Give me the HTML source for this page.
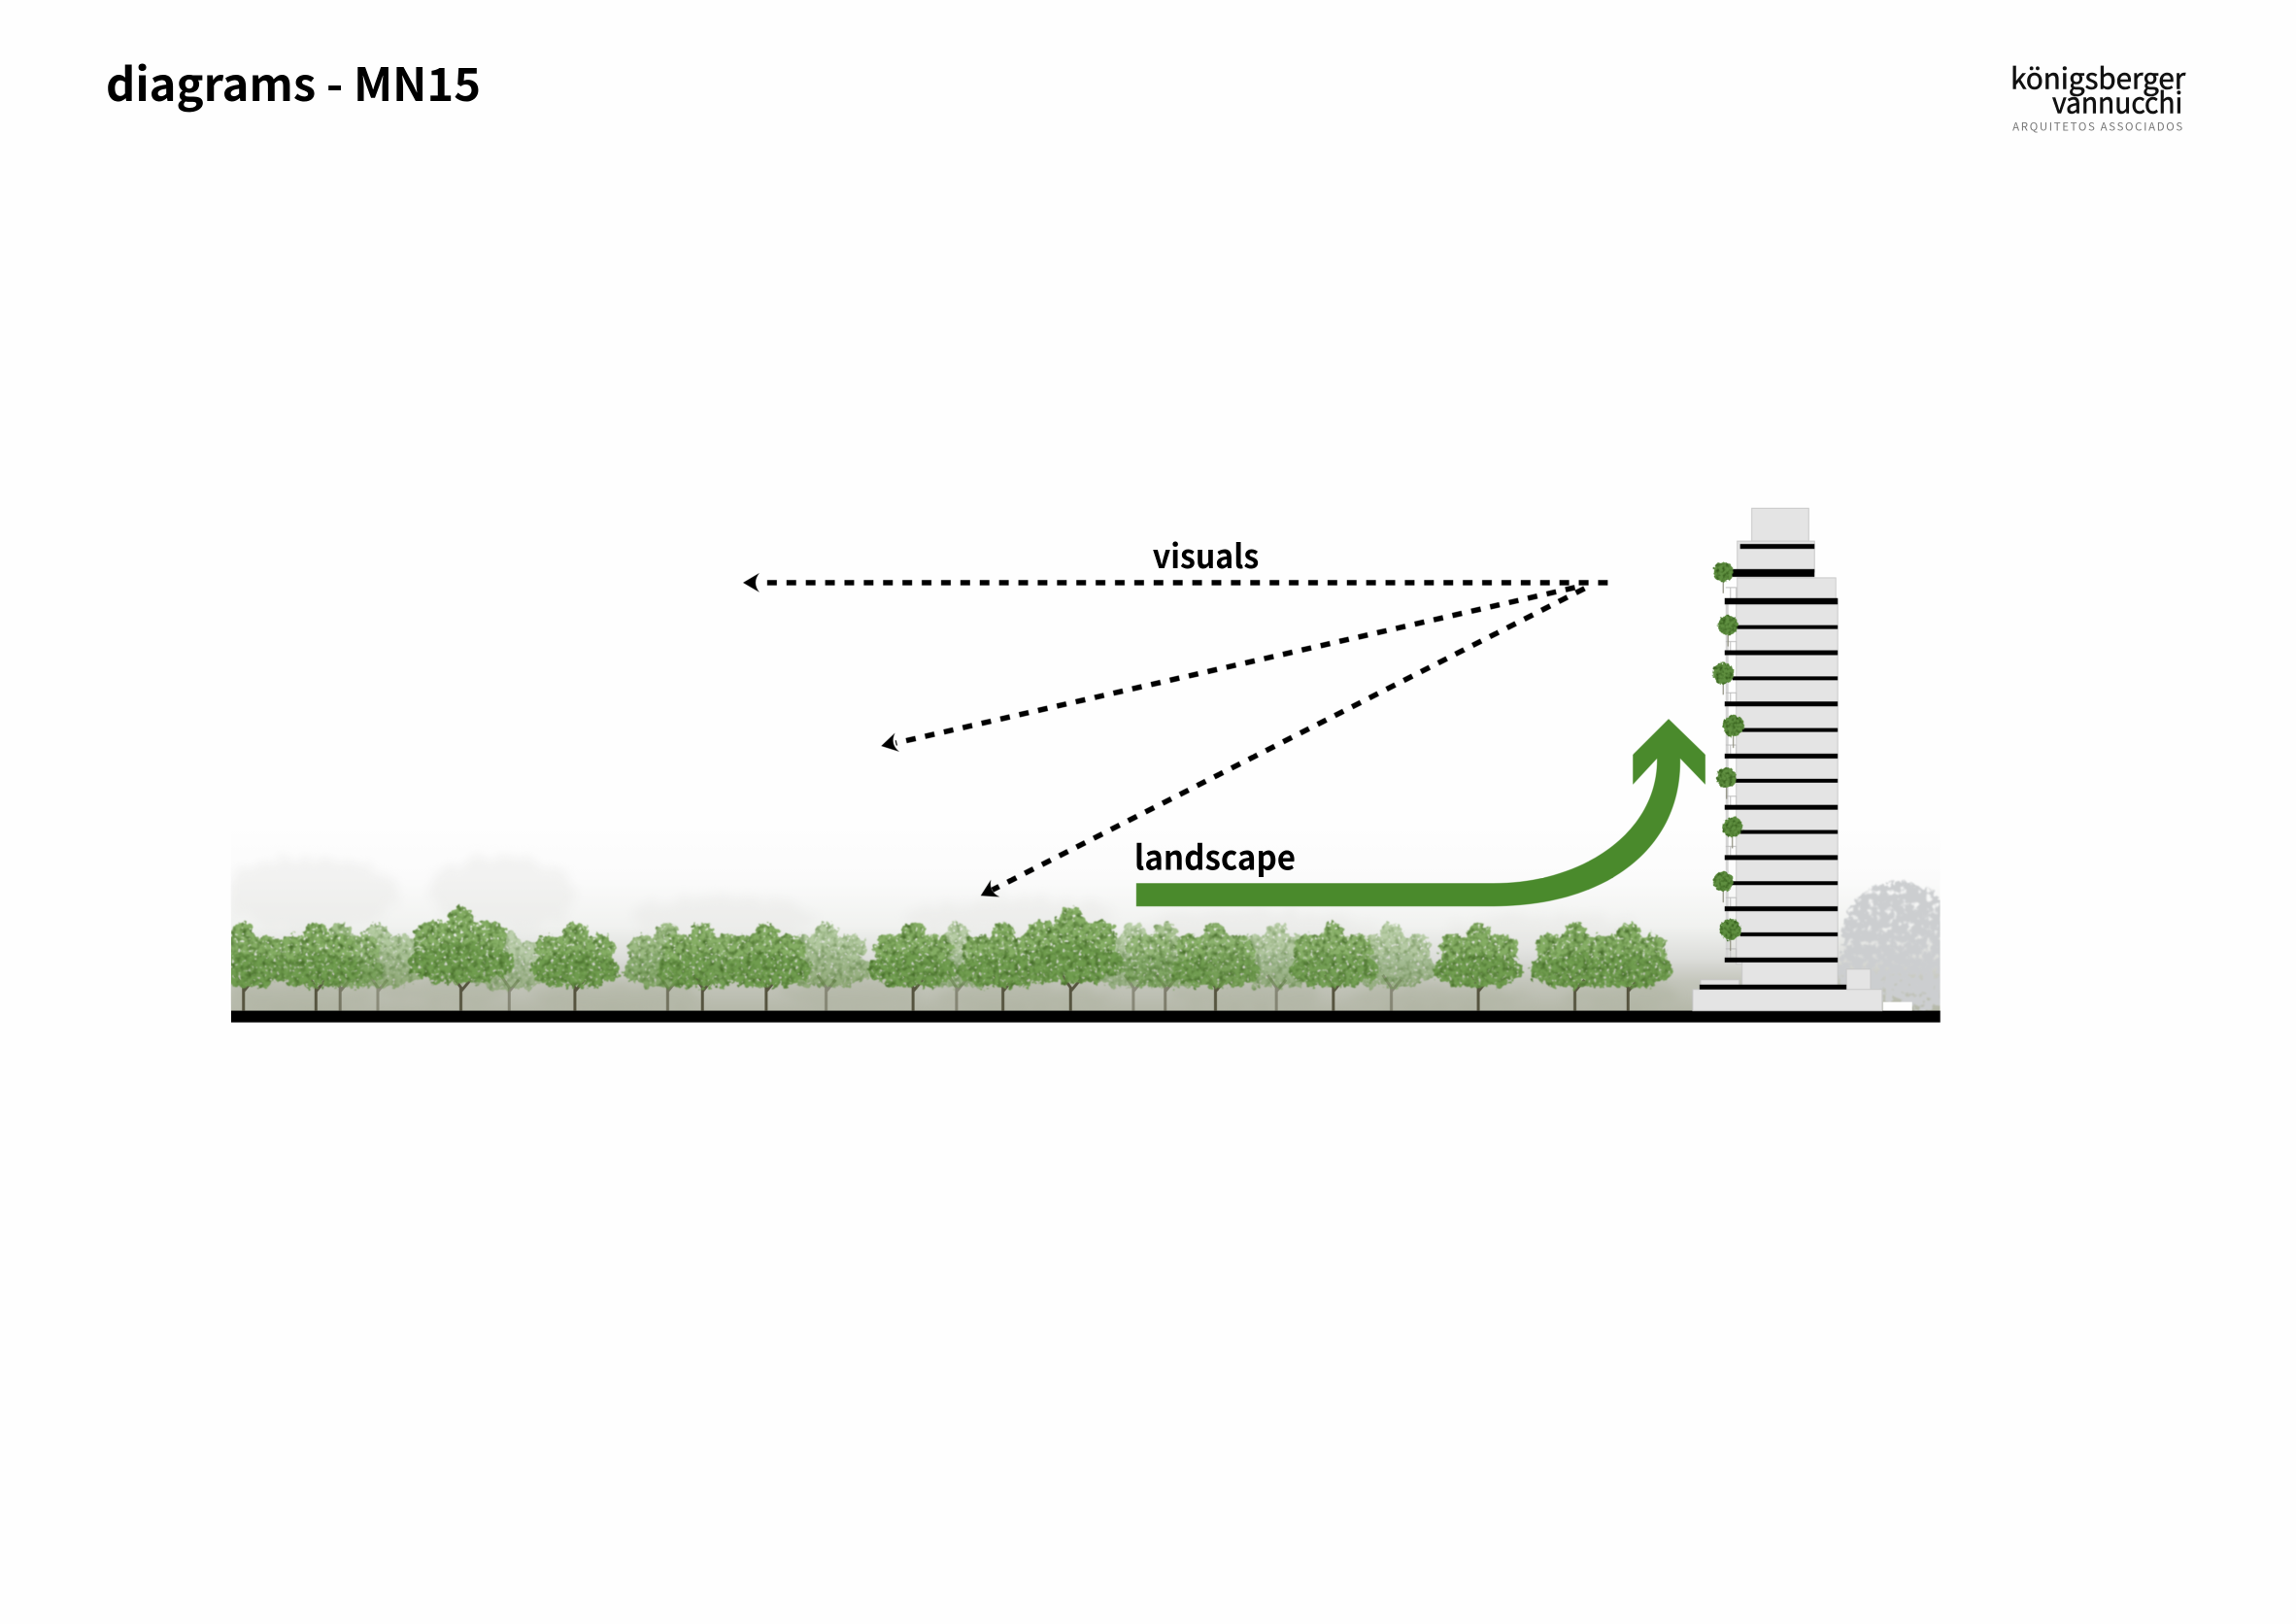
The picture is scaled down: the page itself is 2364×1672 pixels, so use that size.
<!DOCTYPE html>
<html><head><meta charset="utf-8"><title>diagrams - MN15</title>
<style>html,body{margin:0;padding:0;background:#fefefe}svg{display:block}</style></head>
<body>
<svg xmlns="http://www.w3.org/2000/svg" width="2364" height="1672" viewBox="0 0 2364 1672">
<defs>
<linearGradient id="fog" x1="0" y1="0" x2="0" y2="1">
<stop offset="0" stop-color="#fefefe"/><stop offset=".3" stop-color="#fbfbfb"/><stop offset=".55" stop-color="#f1f2f0"/><stop offset=".72" stop-color="#dcddda"/><stop offset=".84" stop-color="#c4c6bc"/><stop offset="1" stop-color="#b5b8a9"/>
</linearGradient>
<filter id="leaf" filterUnits="userSpaceOnUse" x="200" y="850" width="1850" height="220" color-interpolation-filters="sRGB">
<feTurbulence type="fractalNoise" baseFrequency=".18" numOctaves="2" seed="4" result="n"/>
<feDisplacementMap in="SourceGraphic" in2="n" scale="11" xChannelSelector="R" yChannelSelector="G" result="d"/>
<feTurbulence type="fractalNoise" baseFrequency=".3" numOctaves="2" seed="11" result="m"/>
<feColorMatrix in="m" type="matrix" values="0 0 0 0 0  0 0 0 0 0  0 0 0 0 0  0 7 0 0 -4.3" result="holes"/>
<feComposite in="d" in2="holes" operator="out" result="h"/>
<feColorMatrix in="n" type="matrix" values="0 0 0 0 .27  0 0 0 0 .42  0 0 0 0 .16  2.4 0 0 0 -1.05" result="t"/>
<feComposite in="t" in2="h" operator="in" result="s"/>
<feMerge result="o"><feMergeNode in="h"/><feMergeNode in="s"/></feMerge>
<feGaussianBlur in="o" stdDeviation=".5"/>
</filter>
<filter id="small" filterUnits="userSpaceOnUse" x="1760" y="560" width="70" height="440" color-interpolation-filters="sRGB">
<feTurbulence type="fractalNoise" baseFrequency=".3" numOctaves="2" seed="9" result="n"/>
<feDisplacementMap in="SourceGraphic" in2="n" scale="5" xChannelSelector="R" yChannelSelector="G" result="d"/>
<feColorMatrix in="n" type="matrix" values="0 0 0 0 .20  0 0 0 0 .36  0 0 0 0 .10  2.4 0 0 0 -1" result="t"/>
<feComposite in="t" in2="d" operator="in" result="s"/>
<feMerge><feMergeNode in="d"/><feMergeNode in="s"/></feMerge>
</filter>
<filter id="mottle" filterUnits="userSpaceOnUse" x="239" y="850" width="1770" height="200" color-interpolation-filters="sRGB">
<feTurbulence type="fractalNoise" baseFrequency=".07" numOctaves="3" seed="2" result="n"/>
<feDisplacementMap in="SourceGraphic" in2="n" scale="26" xChannelSelector="R" yChannelSelector="G"/>
<feGaussianBlur stdDeviation="5"/>
</filter>
<filter id="greytree" filterUnits="userSpaceOnUse" x="1880" y="880" width="160" height="180" color-interpolation-filters="sRGB">
<feTurbulence type="fractalNoise" baseFrequency=".15" numOctaves="2" seed="6" result="n"/>
<feDisplacementMap in="SourceGraphic" in2="n" scale="16" xChannelSelector="R" yChannelSelector="G" result="d"/>
<feColorMatrix in="n" type="matrix" values="0 0 0 0 0  0 0 0 0 0  0 0 0 0 0  0 6 0 0 -3.4" result="holes"/>
<feComposite in="d" in2="holes" operator="out"/>
<feGaussianBlur stdDeviation=".8"/>
</filter>
<clipPath id="band"><rect x="239" y="850" width="1769" height="197"/></clipPath>
<g id="trunk"><path d="M0 0V-24L-9 -37M0 -20L10 -32" fill="none" stroke="#56543f" stroke-width="3"/></g>
<g id="tree"><g transform="scale(1.08 1)">
<g fill="#84ad63">
<circle cx="0" cy="-80" r="11"/><circle cx="-23" cy="-64" r="15"/><circle cx="23" cy="-64" r="15"/>
<circle cx="0" cy="-60" r="22"/>
</g>
<g fill="#6f9c4e">
<circle cx="-31" cy="-42" r="12"/><circle cx="31" cy="-42" r="12"/>
<ellipse cx="0" cy="-42" rx="32" ry="18"/><circle cx="-19" cy="-33" r="9"/><circle cx="19" cy="-33" r="9"/>
</g>
</g></g>
<path id="head" d="M0 0L17 -10Q9 0 17 10Z" fill="#000"/>
</defs>

<text x="109" y="104" font-family="'Noto Sans CJK JP','Liberation Sans',sans-serif" font-weight="700" font-size="47" fill="#000" textLength="386" lengthAdjust="spacingAndGlyphs">diagrams - MN15</text>

<g transform="scale(.9948)">
<!-- fog and distant forest -->
<g clip-path="url(#band)">
<rect x="239" y="850" width="1769" height="197" fill="url(#fog)"/>
<g filter="url(#mottle)">
<g fill="#e6e7e5" opacity=".45">
<ellipse cx="320" cy="925" rx="90" ry="38"/><ellipse cx="520" cy="925" rx="75" ry="38"/>
<ellipse cx="750" cy="950" rx="95" ry="22"/><ellipse cx="1050" cy="950" rx="110" ry="20"/>
<ellipse cx="1300" cy="960" rx="120" ry="18"/><ellipse cx="1600" cy="965" rx="100" ry="18"/>
</g>
<g fill="#aab09b" opacity=".4">
<ellipse cx="310" cy="1030" rx="80" ry="17"/><ellipse cx="460" cy="1025" rx="70" ry="15"/><ellipse cx="640" cy="1032" rx="90" ry="16"/>
<ellipse cx="880" cy="1028" rx="70" ry="15"/><ellipse cx="1060" cy="1032" rx="90" ry="15"/><ellipse cx="1290" cy="1030" rx="80" ry="15"/>
<ellipse cx="1490" cy="1032" rx="90" ry="13"/><ellipse cx="1680" cy="1030" rx="60" ry="14"/>
</g>
</g>
<g filter="url(#greytree)" fill="#ccced0">
<ellipse cx="1965" cy="968" rx="58" ry="56"/><ellipse cx="1935" cy="1005" rx="34" ry="36"/><ellipse cx="1990" cy="1012" rx="34" ry="34"/>
</g>
<!-- trunks -->
<g>
<use href="#trunk" x="391" y="1046" opacity=".45"/><use href="#trunk" x="352" y="1046" opacity=".65"/><use href="#trunk" x="527" y="1046" opacity=".5"/><use href="#trunk" x="691" y="1046" opacity=".7"/><use href="#trunk" x="855" y="1046" opacity=".5"/><use href="#trunk" x="990" y="1046" opacity=".5"/><use href="#trunk" x="1173" y="1046" opacity=".5"/><use href="#trunk" x="1206" y="1046" opacity=".6"/><use href="#trunk" x="1321" y="1046" opacity=".5"/><use href="#trunk" x="1440" y="1046" opacity=".5"/>
<use href="#trunk" x="252" y="1046"/><use href="#trunk" x="327" y="1046"/><use href="#trunk" x="477" y="1046"/><use href="#trunk" x="595" y="1046"/><use href="#trunk" x="727" y="1046"/><use href="#trunk" x="793" y="1046"/><use href="#trunk" x="945" y="1046"/><use href="#trunk" x="1038" y="1046"/><use href="#trunk" x="1108" y="1046"/><use href="#trunk" x="1258" y="1046"/><use href="#trunk" x="1380" y="1046"/><use href="#trunk" x="1530" y="1046"/><use href="#trunk" x="1630" y="1046"/><use href="#trunk" x="1685" y="1046"/>
</g>
<!-- trees -->
<g filter="url(#leaf)">
<use href="#tree" transform="translate(1173 1046)" opacity=".5"/>
<use href="#tree" transform="translate(1321 1046)" opacity=".5"/>
<use href="#tree" transform="translate(1440 1046)" opacity=".5"/>
<use href="#tree" transform="translate(990 1046)" opacity=".5"/>
<use href="#tree" transform="translate(855 1046)" opacity=".55"/>
<use href="#tree" transform="translate(527 1046) scale(.9)" opacity=".45"/>
<use href="#tree" transform="translate(391 1046)" opacity=".55"/>
<use href="#tree" transform="translate(352 1046)" opacity=".72"/>
<use href="#tree" transform="translate(691 1046)" opacity=".75"/>
<use href="#tree" transform="translate(1206 1046)" opacity=".65"/>
<use href="#tree" transform="translate(252 1046)"/>
<use href="#tree" transform="translate(327 1046)"/>
<use href="#tree" transform="translate(477 1046) scale(1.18)"/>
<use href="#tree" transform="translate(595 1046)"/>
<use href="#tree" transform="translate(727 1046)" opacity=".95"/>
<use href="#tree" transform="translate(793 1046)"/>
<use href="#tree" transform="translate(945 1046)"/>
<use href="#tree" transform="translate(1038 1046)"/>
<use href="#tree" transform="translate(1108 1046) scale(1.18)"/>
<use href="#tree" transform="translate(1258 1046)" opacity=".92"/>
<use href="#tree" transform="translate(1380 1046)" opacity=".95"/>
<use href="#tree" transform="translate(1530 1046)"/>
<use href="#tree" transform="translate(1630 1046)"/>
<use href="#tree" transform="translate(1685 1046)"/>
</g>
</g>
<rect x="239" y="1046" width="1769" height="12" fill="#000"/>

<!-- building -->
<g fill="#e4e4e4" stroke="#c8c8c8" stroke-width="1">
<rect x="1813" y="526" width="59" height="35"/>
<rect x="1798" y="560" width="80" height="32"/>
<rect x="1798" y="598" width="102" height="26"/>
<rect x="1797" y="620" width="105" height="378"/>
<rect x="1803" y="995" width="99" height="30"/>
<rect x="1911" y="1003" width="25" height="22"/>
<rect x="1760" y="1014" width="40" height="10"/>
<rect x="1752" y="1024" width="196" height="22"/>
</g>
<rect x="1949" y="1037" width="30" height="9" fill="#fefefe"/>
<rect x="1786" y="620" width="3" height="375" fill="#d4d4d4"/>
<g fill="none" stroke="#bdbdbd" stroke-width="1">
<path d="M1786 608h11v12M1786 664h11v12M1786 717h11v12M1786 771h11v12M1786 824h11v12M1786 876h11v12M1786 929h11v12M1786 982h11v12"/>
<path d="M1791 608v12M1791 664v12M1791 717v12M1791 771v12M1791 824v12M1791 876v12M1791 929v12M1791 982v12"/>
</g>
<g fill="#000">
<rect x="1801" y="563" width="77" height="5"/>
<rect x="1790" y="589" width="88" height="8"/>
<rect x="1785" y="619" width="117" height="6.5"/>
<rect x="1797" y="647" width="105" height="4"/>
<rect x="1785" y="673" width="117" height="5"/>
<rect x="1793" y="700" width="109" height="4"/>
<rect x="1785" y="726" width="117" height="5"/>
<rect x="1803" y="753.500" width="99" height="4"/>
<rect x="1785" y="780" width="117" height="5"/>
<rect x="1796" y="806" width="106" height="4"/>
<rect x="1785" y="833" width="117" height="5"/>
<rect x="1801" y="859" width="101" height="4"/>
<rect x="1785" y="885" width="117" height="5"/>
<rect x="1790" y="912" width="112" height="4"/>
<rect x="1785" y="938" width="117" height="5"/>
<rect x="1801" y="965" width="101" height="4"/>
<rect x="1785" y="991" width="117" height="5"/>
<rect x="1759" y="1019" width="152" height="5"/>
</g>
<g stroke="#8d8d7d" stroke-width="1.2">
<path d="M1783.500 600v14M1788.500 655v14M1783.500 705v14M1794 760v14M1787 813v14M1793 864v14M1783.500 920v14M1791 970v14"/>
</g>
<g filter="url(#small)" fill="#5f8f40">
<circle cx="1783.500" cy="592" r="10.500"/><circle cx="1788.500" cy="647" r="10.500"/><circle cx="1783.500" cy="697" r="11"/><circle cx="1794" cy="751" r="11"/>
<circle cx="1787" cy="805" r="10.500"/><circle cx="1793" cy="856" r="10.500"/><circle cx="1783.500" cy="912" r="10.500"/><circle cx="1791" cy="962" r="11"/>
</g>

<!-- green arrow -->
<path d="M1727 744L1765 781V812L1739 785C1741 880 1660 938 1546 938H1176V914H1546C1640 914 1716 860 1715 785L1690 812V781Z" fill="#4a8a2c"/>

<!-- dashed view lines -->
<g fill="none" stroke="#000" stroke-width="5.500" stroke-dasharray="10 10">
<path d="M1664 603H785"/>
<path d="M1630 608L927 769"/>
<path d="M1640 609L1027 921"/>
</g>
<use href="#head" transform="translate(769 603)"/>
<use href="#head" transform="translate(912 772) rotate(-13)"/>
<use href="#head" transform="translate(1015 927) rotate(-27)"/>

<!-- text -->
<g font-family="'Noto Sans CJK JP','Liberation Sans',sans-serif" font-weight="700" fill="#000">
<text x="1193" y="588" font-size="34" textLength="110" lengthAdjust="spacingAndGlyphs">visuals</text>
<text x="1174" y="900" font-size="35" textLength="167" lengthAdjust="spacingAndGlyphs">landscape</text>
</g>
<g font-family="'Noto Sans CJK JP','Liberation Sans',sans-serif">
<text x="2081" y="92" font-size="30" fill="#111" stroke="#111" stroke-width=".6" textLength="181" lengthAdjust="spacingAndGlyphs">königsberger</text>
<text x="2124" y="117" font-size="30" fill="#111" stroke="#111" stroke-width=".6" textLength="135" lengthAdjust="spacingAndGlyphs">vannucchi</text>
<text x="2083" y="135" font-size="11.500" fill="#777" textLength="176">ARQUITETOS ASSOCIADOS</text>
</g>
</g>
</svg>
</body></html>
